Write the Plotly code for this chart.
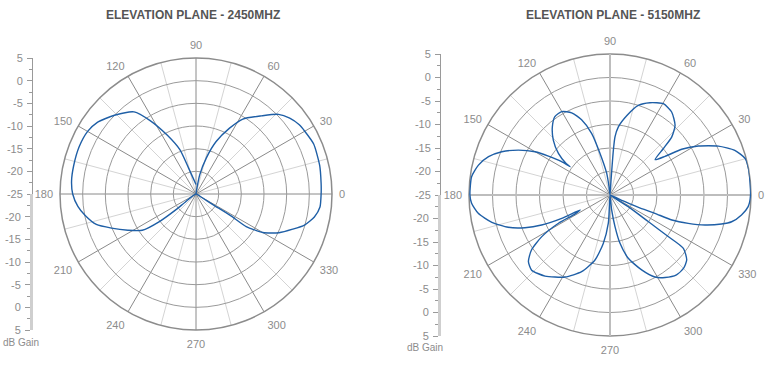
import plotly.graph_objects as go

# ---------------- data ----------------
titles = ["ELEVATION PLANE - 2450MHZ", "ELEVATION PLANE - 5150MHZ"]
angle_ticks = [0, 30, 60, 90, 120, 150, 180, 210, 240, 270, 300, 330]
angle_labels = ["0", "30", "60", "90", "120", "150", "180", "210", "240", "270", "300", "330"]
axis_ticks = [0, 90, 180, 270]
scale_ticks = [5, 0, -5, -10, -15, -20, -25]
scale_label = "dB Gain"

theta_2450 = [90, 81, 79, 74, 69, 63, 58, 50, 44, 39, 34, 30, 23, 13, 5, 0,
              354, 349, 344, 340, 335, 330, 327, 328, 328, 329,
              270,
              217, 218, 217, 214, 208, 202, 197, 191, 186, 180, 174, 167, 158, 150,
              144, 136, 127, 122, 116, 110, 106, 90]
r_2450 = [-25, -23.7, -20.7, -16.7, -12.6, -8.7, -5.5, -2.5, 0.3, 1.6, 2.4, 2.7, 3.2, 3.0, 2.7, 2.6,
          2.5, 1.6, -0.1, -2.3, -4.8, -8.0, -11.8, -16.0, -20.5, -23.5,
          -25,
          -22, -19.5, -15.0, -10.7, -8.0, -4.9, -2.0, -0.1, 1.2, 2.2, 2.6, 2.7, 2.8, 2.6, 1.9,
          0.0, -2.3, -5.9, -10.6, -14.6, -19.0, -22.9, -25]

theta_5150 = [90, 86, 85.7, 85.1, 83, 78, 72.5, 66.6, 59.7, 53.4, 47, 43.2, 41, 38.1,
              35.1, 32.5, 29, 24.3, 19.7, 15.1, 10, 0,
              355.2, 351.4, 347.6, 345.4, 342.5, 340.1, 338, 337.8, 336.5, 336, 332,
              327.5, 325.2, 324.5, 324, 319.7, 315, 309.8, 303.7, 298.7, 292.9, 286.1,
              281.7, 279, 276.3, 270,
              267, 266.6, 262.1, 257, 249.7, 241.3, 231.3, 223.8, 219.2, 215, 211.4,
              208.7, 208.5, 206.6, 205.8, 203.7, 201, 197.6, 193, 187.9, 183.4, 180,
              172.5, 167.2, 162.5, 158.2, 153.9, 150, 147.7, 145.4, 144.7, 144.3,
              141.1, 135.9, 130.2, 125.1, 120.1, 115, 110.7, 106.6, 103.5, 98.7, 96.8, 90]
r_5150 = [-25, -22, -15.5, -12.6, -10.4, -7.7, -5.0, -3.6, -2.5, -3.0, -4.7, -7.0, -10.0, -12.8,
          -10.7, -6.9, -3.5, 0.3, 3.2, 4.8, 5.0, 4.9,
          4.5, 3.3, 1.5, -0.5, -3.8, -7.3, -10.8, -14.7, -18.4, -21.5, -25,
          -20.4, -15.1, -9.8, -5.7, -3.6, -2.9, -2.9, -3.9, -5.1, -7.7, -11.0,
          -14.5, -18.2, -21.8, -25,
          -22.1, -19.0, -14.6, -10.8, -7.6, -5.1, -2.9, -1.9, -2.6, -4.6, -8.0,
          -12.5, -16.5, -17.9, -13.6, -9.1, -5.6, -2.3, 0.8, 3.3, 4.5, 4.8,
          4.7, 3.7, 2.1, -0.2, -3.3, -6.6, -9.5, -12.5, -14.6, -13.5,
          -10.9, -8.2, -6.0, -4.6, -4.5, -5.7, -7.9, -11.3, -15.9, -20.3, -23.2, -25]

# ---------------- styling ----------------
W, H = 774, 366
FONT = "Liberation Sans, Arial, sans-serif"
TXT = "#8c8c8c"
LINE_BLUE = "#1f5fa6"

def px_x(v):
    return v / W

def px_y(v):
    return 1 - v / H

plots = [
    dict(theta=theta_2450, r=r_2450, cx=196, cy=194, R=136, axis_x=33, title_x=193, lab=(21, 342),
         axis_style=None),
    dict(theta=theta_5150, r=r_5150, cx=610, cy=195, R=141, axis_x=441, title_x=613, lab=(425, 347),
         axis_style=dict(color="#bdbdbd", width=2)),
]

fig = go.Figure()
layout = dict(width=W, height=H, margin=dict(l=0, r=0, t=0, b=0, pad=0, autoexpand=False),
              paper_bgcolor="white", plot_bgcolor="white", showlegend=False,
              font=dict(family=FONT, color=TXT, size=11))
annotations = []
pcount = 0

def pname(n):
    return "polar" if n == 1 else f"polar{n}"

def anchor_trace(name):
    # empty trace so every polar layer is registered, in stacking order
    fig.add_trace(go.Scatterpolar(theta=[None], r=[None], mode="lines", subplot=name,
                                  hoverinfo="skip", showlegend=False))

for i, p in enumerate(plots):
    dom = dict(x=[px_x(p["cx"] - p["R"]), px_x(p["cx"] + p["R"])],
               y=[px_y(p["cy"] + p["R"]), px_y(p["cy"] - p["R"])])
    radial_off = dict(range=[-25, 5], showticklabels=False, showline=False, ticks="",
                      showgrid=False)
    # bottom layer: light 15-degree spokes
    pcount += 1
    layout[pname(pcount)] = dict(domain=dict(dom), bgcolor="white",
                                 radialaxis=dict(radial_off),
                                 angularaxis=dict(tickmode="linear", tick0=15, dtick=30, showgrid=True,
                                                  gridcolor="#d4d4d4", gridwidth=1, showline=False,
                                                  showticklabels=False, ticks=""))
    anchor_trace(pname(pcount))
    # middle layer: circles, 30-degree spokes, labels
    pcount += 1
    layout[pname(pcount)] = dict(domain=dict(dom), bgcolor="rgba(0,0,0,0)",
                                 radialaxis=dict(range=[-25, 5], tickmode="linear", tick0=-25, dtick=5,
                                                 showticklabels=False, showline=False, ticks="",
                                                 showgrid=True, gridcolor="#9a9a9a", gridwidth=1),
                                 angularaxis=dict(tickmode="array", tickvals=angle_ticks, ticktext=angle_labels,
                                                  showgrid=True, gridcolor="#8a8a8a", gridwidth=1,
                                                  showline=True, linecolor="#8c8c8c", linewidth=1.5,
                                                  ticks="outside", ticklen=4, tickcolor="rgba(0,0,0,0)",
                                                  tickfont=dict(size=11, color=TXT, family=FONT),
                                                  direction="counterclockwise", rotation=0))
    data_polar = pname(pcount)
    if p["axis_style"] is not None:
        anchor_trace(data_polar)
        # top layer: lighter, thicker main axes
        pcount += 1
        layout[pname(pcount)] = dict(domain=dict(dom), bgcolor="rgba(0,0,0,0)",
                                     radialaxis=dict(radial_off),
                                     angularaxis=dict(tickmode="array", tickvals=axis_ticks,
                                                      ticktext=["", "", "", ""], showgrid=True,
                                                      gridcolor=p["axis_style"]["color"],
                                                      gridwidth=p["axis_style"]["width"],
                                                      showline=False, showticklabels=False, ticks=""))
        data_polar = pname(pcount)
    fig.add_trace(go.Scatterpolar(theta=p["theta"], r=p["r"], mode="lines",
                                  line=dict(color=LINE_BLUE, width=1.4, shape="spline", smoothing=0.6),
                                  subplot=data_polar, hoverinfo="skip", showlegend=False))

    # dB Gain scale built from two cartesian y axes
    xa = "xaxis" if i == 0 else "xaxis2"
    xref = "x" if i == 0 else "x2"
    layout[xa] = dict(domain=[px_x(p["axis_x"]), px_x(p["axis_x"] + 5)], range=[0, 1], visible=False,
                      fixedrange=True, automargin=False)
    ya_top = "yaxis" if i == 0 else "yaxis3"
    ya_bot = "yaxis2" if i == 0 else "yaxis4"
    yc = px_y(p["cy"])
    common = dict(anchor=xref, side="left", showgrid=False, zeroline=False, ticks="outside",
                  ticklen=5, tickcolor="#9a9a9a", tickwidth=1, showline=True, automargin=False,
                  tickfont=dict(size=11, color=TXT, family=FONT), fixedrange=True,
                  tickmode="array", ticklabelstandoff=2)
    layout[ya_top] = dict(common, domain=[yc, px_y(p["cy"] - p["R"])], range=[-25, 5],
                          tickvals=scale_ticks, ticktext=[str(v) for v in scale_ticks],
                          linecolor="#9a9a9a", linewidth=1,
                          minor=dict(dtick=2.5, tick0=0, ticks="outside", ticklen=3, tickcolor="#9a9a9a"))
    layout[ya_bot] = dict(common, domain=[px_y(p["cy"] + p["R"]), yc], range=[5, -25],
                          tickvals=scale_ticks[:-1], ticktext=[str(v) for v in scale_ticks[:-1]],
                          linecolor="#cfcfcf", linewidth=3,
                          minor=dict(dtick=2.5, tick0=0, ticks="outside", ticklen=3, tickcolor="#9a9a9a"))
    for ya in (ya_top, ya_bot):
        fig.add_trace(go.Scatter(x=[None], y=[None], xaxis=xref, yaxis=ya.replace("axis", ""),
                                 showlegend=False, hoverinfo="skip"))

    annotations.append(dict(text=titles[i], x=px_x(p["title_x"]), y=px_y(15), xref="paper", yref="paper",
                            showarrow=False, xanchor="center", yanchor="middle",
                            font=dict(size=12, color="#555555", family=FONT, weight="bold")))
    annotations.append(dict(text=scale_label, x=px_x(p["lab"][0]), y=px_y(p["lab"][1]), xref="paper",
                            yref="paper", showarrow=False, xanchor="center", yanchor="middle",
                            font=dict(size=10, color=TXT, family=FONT)))

layout["annotations"] = annotations
fig.update_layout(**layout)
fig.write_html("out.html", config={"displayModeBar": False, "staticPlot": True},
               post_script="document.body.style.margin='0px';")
